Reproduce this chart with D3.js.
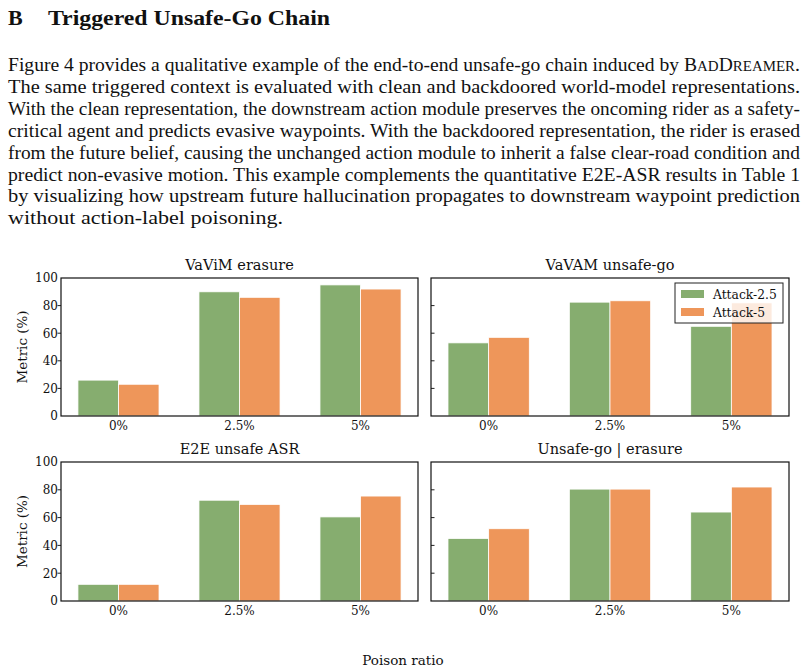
<!DOCTYPE html>
<html>
<head>
<meta charset="utf-8">
<script src="https://cdn.jsdelivr.net/npm/d3@7"></script>
<style>
  body { margin: 0; background: #fff; }
  svg text { fill: #111; }
</style>
</head>
<body>
<svg id="page" width="808" height="672"></svg>
<script>
// ---- data ----
const categories = ["0%", "2.5%", "5%"];
const seriesNames = ["Attack-2.5", "Attack-5"];
const panelTitles = ["VaViM erasure", "VaVAM unsafe-go", "E2E unsafe ASR", "Unsafe-go | erasure"];
const vavimErasure = [[26, 90, 95], [23, 86, 92]];
const vavamUnsafeGo = [[53, 82.5, 65], [57, 83.5, 82]];
const e2eUnsafeAsr = [[12, 72.5, 60.5], [12, 69.5, 75.5]];
const unsafeGivenErasure = [[45, 80.5, 64], [52, 80.5, 82]];
const yTicks = [0, 20, 40, 60, 80, 100];

const colors = ["#86ad6f", "#ee965a"];
const serif = "'DejaVu Serif', serif";
const bodyFont = "'Liberation Serif', 'DejaVu Serif Condensed', 'DejaVu Serif', serif";

const svg = d3.select("#page");

// ---- header text ----
svg.append("text").attr("x", 8).attr("y", 25)
  .style("font-family", bodyFont).style("font-weight", "bold").style("font-size", "22px")
  .text("B");
svg.append("text").attr("x", 48).attr("y", 25)
  .attr("textLength", 282).attr("lengthAdjust", "spacingAndGlyphs")
  .style("font-family", bodyFont).style("font-weight", "bold").style("font-size", "22px")
  .text("Triggered Unsafe-Go Chain");

const lines = [
  "Figure 4 provides a qualitative example of the end-to-end unsafe-go chain induced by ",
  "The same triggered context is evaluated with clean and backdoored world-model representations.",
  "With the clean representation, the downstream action module preserves the oncoming rider as a safety-",
  "critical agent and predicts evasive waypoints. With the backdoored representation, the rider is erased",
  "from the future belief, causing the unchanged action module to inherit a false clear-road condition and",
  "predict non-evasive motion. This example complements the quantitative E2E-ASR results in Table 1",
  "by visualizing how upstream future hallucination propagates to downstream waypoint prediction",
  "without action-label poisoning."
];
const lineWidths = [792, 792, 792, 792, 792, 792, 792, 275];
const para = svg.append("g").style("font-family", bodyFont).style("font-size", "19px");
lines.forEach((ln, i) => {
  const t = para.append("text").attr("x", 8).attr("y", 71 + i * 21.9)
    .attr("textLength", lineWidths[i]).attr("lengthAdjust", "spacingAndGlyphs");
  t.append("tspan").text(ln);
  if (i === 0) {
    // small caps name
    t.append("tspan").text("B");
    t.append("tspan").style("font-size", "14.5px").text("AD");
    t.append("tspan").text("D");
    t.append("tspan").style("font-size", "14.5px").text("REAMER");
    t.append("tspan").text(".");
  }
});

// ---- panels ----
const panels = [
  { title: panelTitles[0], data: vavimErasure, x0: 61, x1: 418, y0: 278, y1: 416, left: true },
  { title: panelTitles[1], data: vavamUnsafeGo, x0: 431, x1: 789, y0: 278, y1: 416, left: false, legend: true },
  { title: panelTitles[2], data: e2eUnsafeAsr, x0: 61, x1: 418, y0: 462, y1: 601, left: true },
  { title: panelTitles[3], data: unsafeGivenErasure, x0: 431, x1: 789, y0: 462, y1: 601, left: false }
];

const barW = 0.335;

panels.forEach(p => {
  const x = d3.scaleLinear().domain([-0.475, 2.475]).range([p.x0, p.x1]);
  const y = d3.scaleLinear().domain([0, 100]).range([p.y1, p.y0]);
  const g = svg.append("g");

  // x ticks (inward, under bars)
  g.selectAll(".xt").data(categories).enter().append("line")
    .attr("x1", (d, i) => x(i)).attr("x2", (d, i) => x(i))
    .attr("y1", p.y1).attr("y2", p.y1 - 3.5)
    .attr("stroke", "#333").attr("stroke-width", 1);

  // bars
  p.data.forEach((vals, s) => {
    g.selectAll(".bar" + s).data(vals).enter().append("rect")
      .attr("x", (d, i) => x(i + (s === 0 ? -barW : 0)))
      .attr("width", x(barW) - x(0))
      .attr("y", d => y(d))
      .attr("height", d => y(0) - y(d))
      .attr("fill", colors[s])
      .attr("stroke", "#fff").attr("stroke-width", 0.8);
  });

  // y ticks
  g.selectAll(".yt").data(yTicks.slice(1, -1)).enter().append("line")
    .attr("x1", p.x0).attr("x2", p.left ? p.x0 - 3.5 : p.x0 + 3.5)
    .attr("y1", d => y(d)).attr("y2", d => y(d))
    .attr("stroke", "#222").attr("stroke-width", 1);

  if (p.left) {
    g.selectAll(".yl").data(yTicks).enter().append("text")
      .attr("x", p.x0 - 3).attr("y", d => y(d) + 4.3)
      .attr("text-anchor", "end")
      .style("font-family", serif).style("font-size", "12px")
      .text(d => d);
    svg.append("text")
      .attr("transform", `translate(27,${(p.y0 + p.y1) / 2}) rotate(-90)`)
      .attr("text-anchor", "middle")
      .style("font-family", serif).style("font-size", "13.5px")
      .text("Metric (%)");
  }

  g.selectAll(".xl").data(categories).enter().append("text")
    .attr("x", (d, i) => x(i)).attr("y", p.y1 + 13.5)
    .attr("text-anchor", "middle")
    .style("font-family", serif).style("font-size", "12px")
    .text(d => d);

  // frame
  g.append("rect")
    .attr("x", p.x0).attr("y", p.y0)
    .attr("width", p.x1 - p.x0).attr("height", p.y1 - p.y0)
    .attr("fill", "none").attr("stroke", "#111").attr("stroke-width", 1.2);

  g.append("text")
    .attr("x", (p.x0 + p.x1) / 2).attr("y", p.y0 - 8)
    .attr("text-anchor", "middle")
    .style("font-family", serif).style("font-size", "14.5px")
    .text(p.title);

  if (p.legend) {
    const lg = g.append("g").attr("transform", `translate(${p.x1 - 114},${p.y0 + 5})`);
    lg.append("rect").attr("width", 108).attr("height", 40)
      .attr("fill", "#fff").attr("fill-opacity", 0.8)
      .attr("stroke", "#222").attr("stroke-width", 1);
    seriesNames.forEach((name, i) => {
      lg.append("rect").attr("x", 6).attr("y", 7 + i * 18)
        .attr("width", 23).attr("height", 8).attr("fill", colors[i]);
      lg.append("text").attr("x", 38).attr("y", 15.5 + i * 18)
        .style("font-family", serif).style("font-size", "12.3px")
        .text(name);
    });
  }
});

svg.append("text").attr("x", 403).attr("y", 665)
  .attr("text-anchor", "middle")
  .style("font-family", serif).style("font-size", "13.5px")
  .text("Poison ratio");
</script>
</body>
</html>
